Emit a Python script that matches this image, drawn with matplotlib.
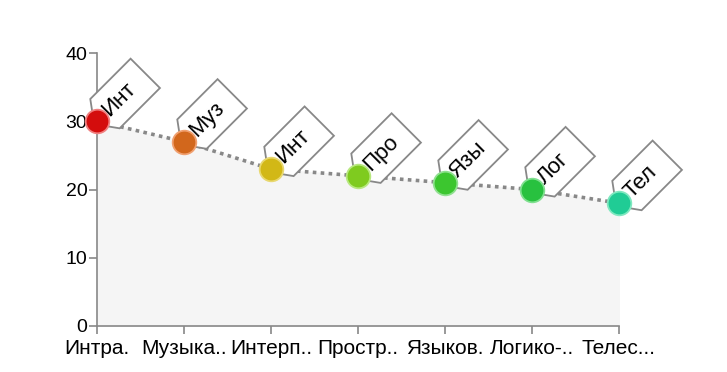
import matplotlib
matplotlib.use("Agg")
import matplotlib.pyplot as plt
import matplotlib.transforms as mtransforms
from matplotlib.patches import Polygon
import numpy as np

plt.rcParams['font.family'] = ['Liberation Sans', 'DejaVu Sans']

categories = ["Интраперсональный", "Музыкальный", "Интерперсональный",
              "Пространственный", "Языковой", "Логико-математический",
              "Телесно-кинестетический"]
tick_labels = ["Интра.", "Музыка..", "Интерп..", "Простр..", "Языков.", "Логико-..", "Телес..."]
tag_labels = ["Инт", "Муз", "Инт", "Про", "Язы", "Лог", "Тел"]
values = [30, 27, 23, 22, 21, 20, 18]
colors = ["#d40d0d", "#d2671c", "#d2b816", "#7fcb1f", "#3cc62f", "#28c13f", "#20cc95"]
edge_colors = ["#f08080", "#f0a070", "#e8d870", "#b8e880", "#90e090", "#80e090", "#80e8c0"]

fig = plt.figure(figsize=(7.27, 3.72), dpi=100)
ax = fig.add_axes([97/727, 1-326/372, (619-97)/727, (326-53)/372])
x = np.arange(len(values))

ax.fill_between(x, 0, values, color="#f5f5f5", zorder=1)
ax.plot(x, values, linestyle=(0, (1, 1.2)), color="#888888", linewidth=2.6, zorder=2)

# tag shapes (pixels, in rotated frame: u along tag, v across)
c, s = np.cos(np.pi/4), np.sin(np.pi/4)
tag_uv = [(-4, 0), (11, 20.5), (68, 20.5), (68, -21), (11, -21)]
for xi, yi, lab in zip(x, values, tag_labels):
    verts = []
    for u, v in tag_uv:
        px = u*c - v*s
        py = u*s + v*c
        verts.append((px/100, py/100))
    trans = fig.dpi_scale_trans + mtransforms.ScaledTranslation(xi, yi, ax.transData)
    poly = Polygon(verts, closed=True, transform=trans, facecolor="white",
                   edgecolor="#888888", linewidth=1.3, zorder=3, clip_on=False)
    ax.add_patch(poly)
    tu = 12
    ax.text(tu*c/100, tu*s/100, lab, transform=trans, rotation=45,
            rotation_mode='anchor', ha='left', va='center', fontsize=16,
            color="black", zorder=4, clip_on=False)

for xi, yi, col, ec in zip(x, values, colors, edge_colors):
    ax.plot([xi], [yi], marker='o', markersize=17, color=col,
            markeredgecolor=ec, markeredgewidth=1.3, zorder=5, clip_on=False)

ax.set_xlim(0, 6)
ax.set_ylim(0, 40)
ax.set_yticks([0, 10, 20, 30, 40])
ax.set_xticks(x)
ax.set_xticklabels(tick_labels)
for sp in ['top', 'right']:
    ax.spines[sp].set_visible(False)
for sp in ['left', 'bottom']:
    ax.spines[sp].set_color("#888888")
    ax.spines[sp].set_linewidth(1.2)
ax.tick_params(axis='both', colors="#888888", length=6, width=1.2, labelcolor="black", labelsize=14)
ax.tick_params(axis='x', pad=3, labelsize=15)
ax.tick_params(axis='y', pad=1)
ax.set_facecolor("none")

fig.savefig("out.png", dpi=100)
